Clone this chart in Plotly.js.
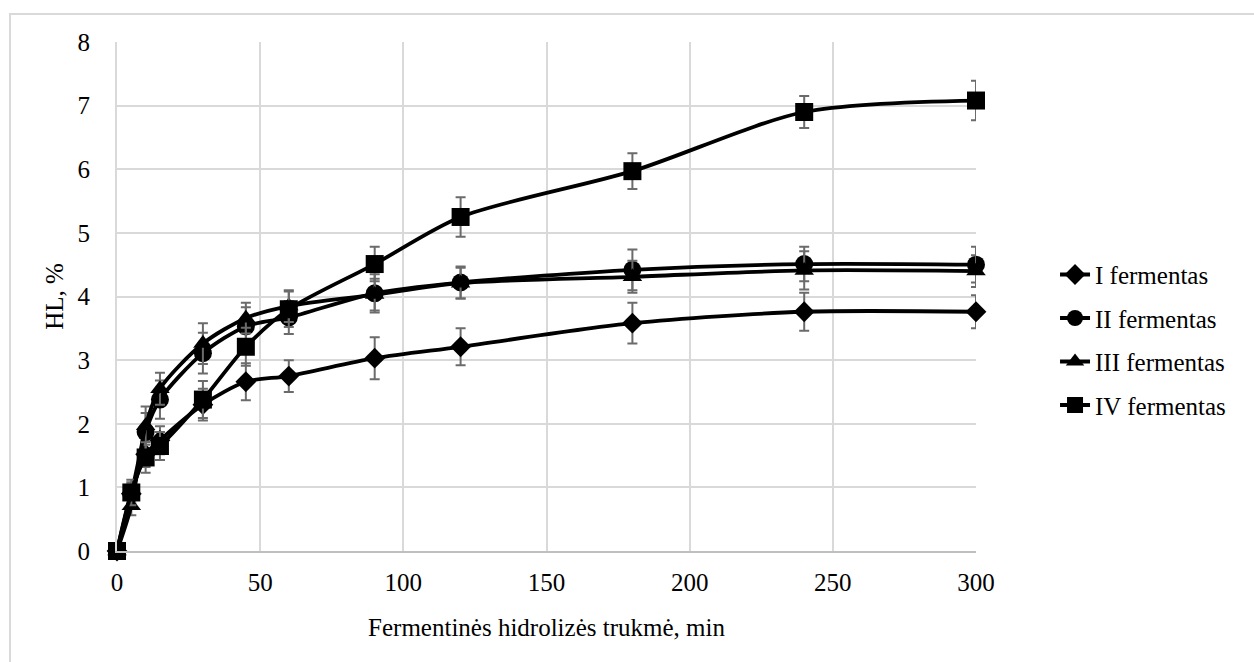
<!DOCTYPE html>
<html>
<head>
<meta charset="utf-8">
<script src="https://cdn.plot.ly/plotly-3.0.1.min.js"></script>
<style>
html,body{margin:0;padding:0;background:#fff;}
#frame{position:absolute;left:9px;top:13px;width:1400px;height:800px;border-left:2px solid #d9d9d9;border-top:2px solid #d9d9d9;pointer-events:none;z-index:5;}
#chart{position:absolute;left:0;top:0;width:1254px;height:662px;}
</style>
</head>
<body>
<div id="chart"></div>
<div id="frame"></div>
<script>
const time = [0, 5, 10, 15, 30, 45, 60, 90, 120, 180, 240, 300];
const seriesNames = ["I fermentas", "II fermentas", "III fermentas", "IV fermentas"];
const ferm1 = [0, 0.90, 1.52, 1.74, 2.30, 2.66, 2.75, 3.03, 3.21, 3.58, 3.76, 3.76];
const ferm1Err = [0, 0.15, 0.20, 0.22, 0.25, 0.29, 0.25, 0.33, 0.29, 0.32, 0.30, 0.26];
const ferm2 = [0, 0.90, 1.87, 2.38, 3.11, 3.53, 3.67, 4.05, 4.22, 4.42, 4.51, 4.50];
const ferm2Err = [0, 0.18, 0.30, 0.30, 0.32, 0.30, 0.26, 0.30, 0.25, 0.32, 0.27, 0.28];
const ferm3 = [0, 0.71, 1.97, 2.55, 3.26, 3.66, 3.85, 4.03, 4.21, 4.31, 4.41, 4.40];
const ferm3Err = [0, 0.15, 0.30, 0.25, 0.32, 0.24, 0.25, 0.25, 0.24, 0.25, 0.30, 0.25];
const ferm4 = [0, 0.92, 1.47, 1.65, 2.38, 3.21, 3.80, 4.51, 5.25, 5.97, 6.90, 7.08];
const ferm4Err = [0, 0.20, 0.24, 0.22, 0.29, 0.30, 0.28, 0.27, 0.31, 0.28, 0.25, 0.31];
const xTicks = [0, 50, 100, 150, 200, 250, 300];
const yTicks = [0, 1, 2, 3, 4, 5, 6, 7, 8];

const ys = [ferm1, ferm2, ferm3, ferm4];
const errs = [ferm1Err, ferm2Err, ferm3Err, ferm4Err];
const symbols = ["diamond", "circle", "triangle-up", "square"];
const sizes = [16, 18, 17, 18];

const traces = ys.map((y, i) => ({
  type: "scatter",
  mode: "lines+markers",
  x: time,
  y: y,
  name: seriesNames[i],
  legendgroup: "g" + i,
  cliponaxis: false,
  line: {color: "#000", width: 3.8, shape: "spline", smoothing: 0.8},
  marker: {symbol: symbols[i], size: sizes[i], color: "#000"},
  error_y: {type: "data", array: errs[i], visible: true, color: "#6b6b6b", thickness: 2, width: 5}
}));

const font = "'Liberation Serif', 'Times New Roman', serif";
const layout = {
  width: 1254, height: 662,
  margin: {l: 117, r: 278, t: 42, b: 111},
  paper_bgcolor: "#fff", plot_bgcolor: "#fff",
  font: {family: font, size: 25, color: "#000"},
  showlegend: true,
  legend: {
    x: 1.092, xanchor: "left", y: 0.415, yanchor: "middle",
    traceorder: "grouped", tracegroupgap: 8,
    font: {family: font, size: 25, color: "#000"},
    bgcolor: "rgba(0,0,0,0)"
  },
  xaxis: {
    range: [0, 300], tickvals: xTicks, ticktext: xTicks.map(String),
    showgrid: true, gridcolor: "#d9d9d9", gridwidth: 2,
    zeroline: false, showline: true, linecolor: "#bfbfbf", linewidth: 2,
    ticks: "", ticklabelstandoff: 8,
    tickfont: {family: font, size: 25, color: "#000"},
    title: {text: "Fermentinės hidrolizės trukmė, min", font: {family: font, size: 25, color: "#000"}, standoff: 23}
  },
  yaxis: {
    range: [0, 8], tickvals: yTicks, ticktext: yTicks.map(String),
    showgrid: true, gridcolor: "#d9d9d9", gridwidth: 2,
    zeroline: false, showline: true, linecolor: "#d9d9d9", linewidth: 2,
    ticks: "", ticklabelstandoff: 20,
    tickfont: {family: font, size: 25, color: "#000"},
    title: {text: "HL, %", font: {family: font, size: 25, color: "#000"}, standoff: 7}
  }
};

Plotly.newPlot("chart", traces, layout, {displayModeBar: false, staticPlot: true});
</script>
</body>
</html>
